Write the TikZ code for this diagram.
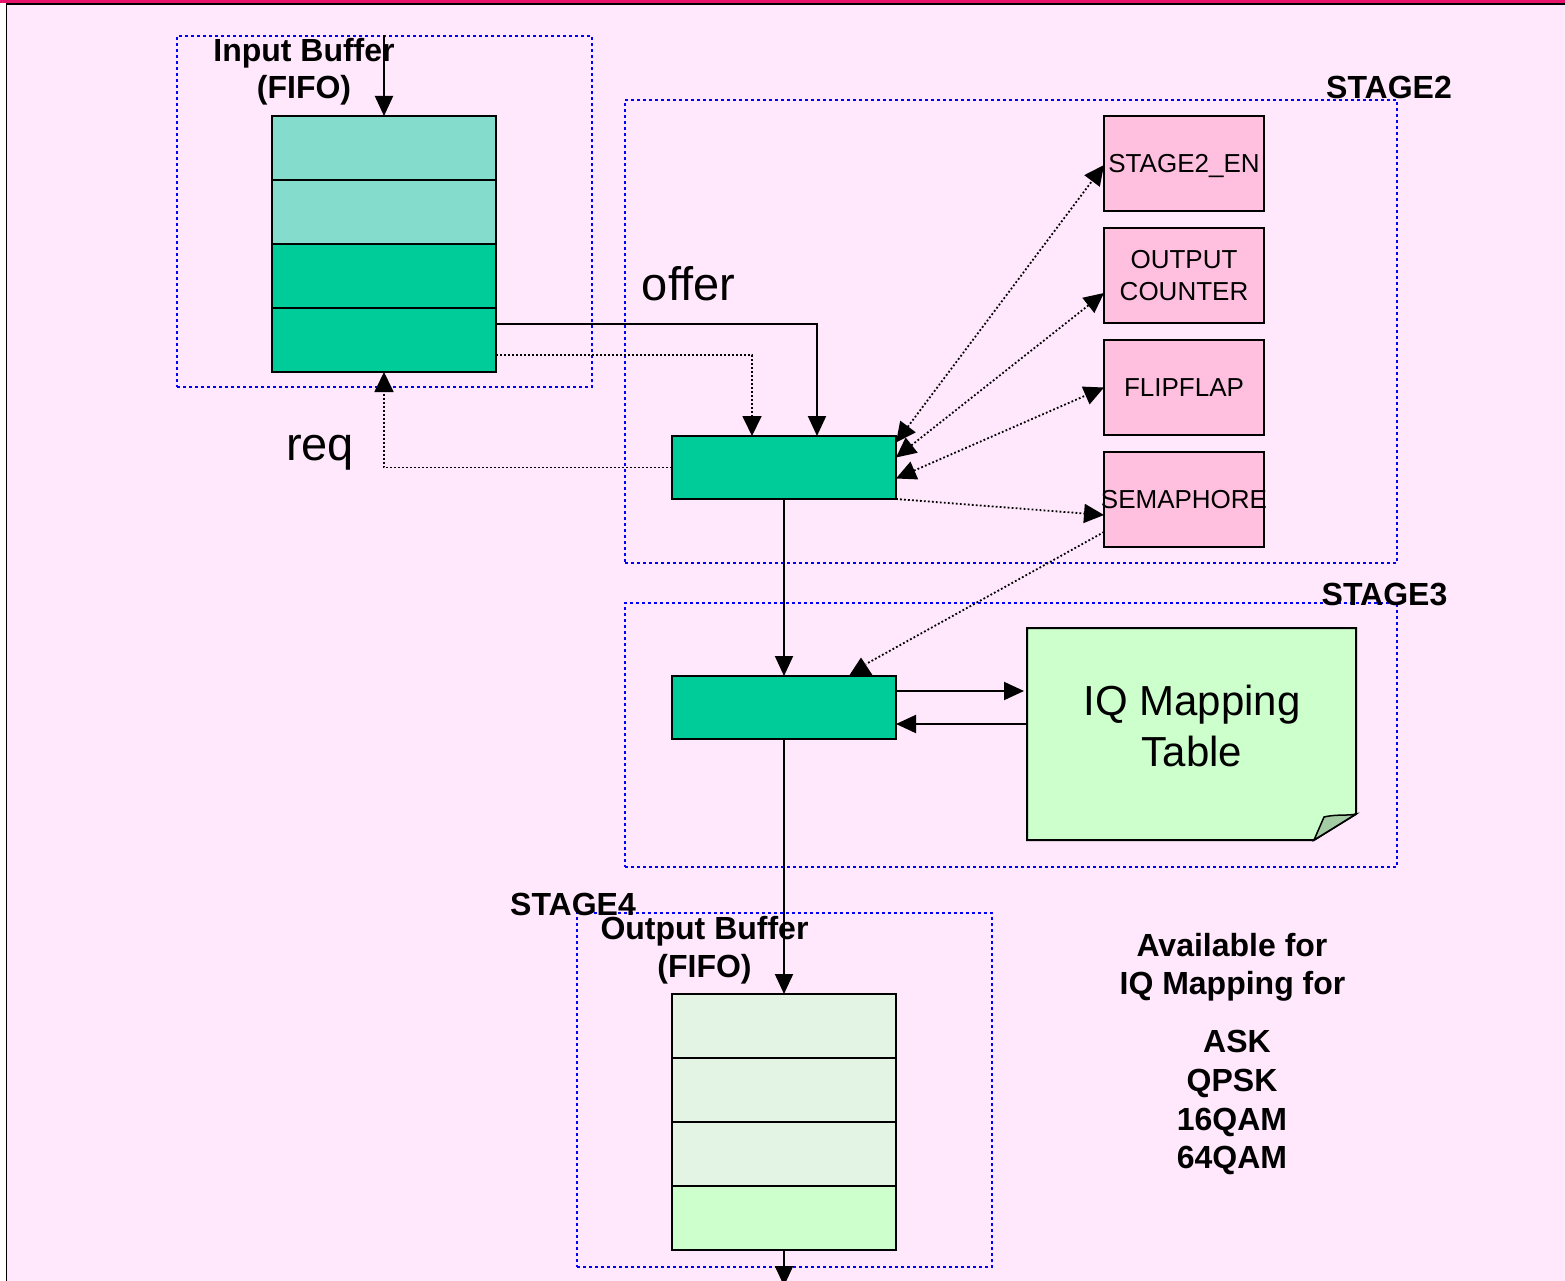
\documentclass[tikz,border=0pt]{standalone}
\usepackage{fontspec}
\setmainfont{Liberation Sans}
\usetikzlibrary{arrows.meta}
\definecolor{bgpink}{HTML}{FFE8FC}
\definecolor{topred}{HTML}{E8146C}
\definecolor{tealL}{HTML}{84DDCC}
\definecolor{tealD}{HTML}{00CC99}
\definecolor{boxpink}{HTML}{FFC0E0}
\definecolor{outL}{HTML}{E4F4E4}
\definecolor{notegreen}{HTML}{CCFFCC}
\definecolor{foldgreen}{HTML}{A4CCA4}
\begin{document}
\begin{tikzpicture}[x=1pt,y=-1pt,
  frame/.style={draw=blue, line width=2.8pt, dash pattern=on 2.8pt off 3.2pt, inner sep=0pt, outer sep=0pt},
  cell/.style={draw=black, line width=2pt, minimum width=224pt, minimum height=64pt, inner sep=0pt, outer sep=0pt},
  blk/.style={draw=black, line width=2pt, fill=tealD, minimum width=224pt, minimum height=63pt, inner sep=0pt, outer sep=0pt},
  pinkbox/.style={draw=black, line width=2pt, fill=boxpink, minimum width=160pt, minimum height=95pt, inner sep=0pt, outer sep=0pt, align=center, font=\fontsize{26}{32}\selectfont},
  lbl/.style={font=\fontsize{32}{38}\selectfont\bfseries, anchor=base, inner sep=0pt},
  big/.style={font=\fontsize{47}{54}\selectfont, anchor=base, inner sep=0pt},
  iqtxt/.style={font=\fontsize{42}{50}\selectfont, anchor=base, inner sep=0pt},
  conn/.style={line width=2pt, -{Triangle[length=20pt,width=18pt]}},
  dconn/.style={line width=1.8pt, dash pattern=on 1.8pt off 2.2pt, -{Triangle[length=20pt,width=19pt]}},
  ddconn/.style={line width=1.8pt, dash pattern=on 1.8pt off 2.2pt, {Triangle[length=20pt,width=19pt]}-{Triangle[length=20pt,width=19pt]}},
  dline/.style={line width=1.8pt, dash pattern=on 1.8pt off 2.2pt}
]
\useasboundingbox (0,0) rectangle (1565,1281);
% background and page edges
\fill[bgpink] (0,0) rectangle (1565,1281);
\fill[white] (0,3) rectangle (5.7,1281);
\fill[topred] (0,0) rectangle (1565,3);
\draw[line width=1.6pt] (6.5,1281) -- (6.5,3.8) -- (1565,3.8);

% stage frames
\node[frame, minimum width=415pt, minimum height=351pt] (f1) at (384.5,211.5) {};
\node[frame, minimum width=772pt, minimum height=463pt] (f2) at (1011,331.5) {};
\node[frame, minimum width=772pt, minimum height=264pt] (f3) at (1011,735) {};
\node[frame, minimum width=415pt, minimum height=354pt] (f4) at (784.5,1090) {};

% labels
\node[lbl] (lin1) at (304,62) {Input Buffer};
\node[lbl] (lin2) at (304,99) {(FIFO)};
\node[lbl] (ls2) at (1389,99) {STAGE2};
\node[lbl] (ls3) at (1384.5,605) {STAGE3};
\node[lbl] (ls4) at (573,915) {STAGE4};
\node[lbl] (lout1) at (704.5,939) {Output Buffer};
\node[lbl] (lout2) at (704.5,977) {(FIFO)};
\node[lbl] (av1) at (1232,956) {Available for};
\node[lbl] (av2) at (1232.5,994) {IQ Mapping for};
\node[lbl] (m1) at (1237,1052) {ASK};
\node[lbl] (m2) at (1232,1091) {QPSK};
\node[lbl] (m3) at (1232,1130) {16QAM};
\node[lbl] (m4) at (1232,1168) {64QAM};
\node[big] (loffer) at (688.5,300) {offer};
\node[big] (lreq) at (320,460) {req};

% input FIFO
\node[cell, fill=tealL] (in1) at (384,148) {};
\node[cell, fill=tealL] (in2) at (384,212) {};
\node[cell, fill=tealD] (in3) at (384,276) {};
\node[cell, fill=tealD] (in4) at (384,340) {};

% output FIFO
\node[cell, fill=outL] (out1) at (784,1026) {};
\node[cell, fill=outL] (out2) at (784,1090) {};
\node[cell, fill=outL] (out3) at (784,1154) {};
\node[cell, fill=notegreen] (out4) at (784,1218) {};

% processing blocks
\node[blk] (b2) at (784,467.5) {};
\node[blk] (b3) at (784,707.5) {};

% stage 2 resources
\node[pinkbox, text height=19pt, text depth=0pt] (s2en) at (1184,163.5) {STAGE2\_EN};
\node[pinkbox] (oc) at (1184,275.5) {OUTPUT\\COUNTER};
\node[pinkbox] (ff) at (1184,387.5) {FLIPFLAP};
\node[pinkbox] (sem) at (1184,499.5) {\makebox[0pt]{SEMAPHORE}};

% IQ mapping table (note with folded corner)
\node[minimum width=329pt, minimum height=212pt, inner sep=0pt, outer sep=0pt] (iq) at (1191.5,734) {};
\draw[line width=2pt, fill=notegreen] (iq.north west) -- (iq.north east) -- ([yshift=26pt]iq.south east) -- ([xshift=-42pt]iq.south east) -- (iq.south west) -- cycle;
\draw[line width=1.5pt, fill=foldgreen] ([xshift=-42pt]iq.south east) -- ([xshift=-32pt,yshift=23pt]iq.south east) .. controls ([xshift=-20pt,yshift=26pt]iq.south east) and ([xshift=-8pt,yshift=24pt]iq.south east) .. ([yshift=26pt]iq.south east) -- cycle;
\node[iqtxt] (iqt1) at (1192,715) {IQ Mapping};
\node[iqtxt] (iqt2) at (1192,766) {Table};

% connectors
\coordinate (intop) at (384,35);
\coordinate (outbot) at (784,1286);
\draw[conn] (intop) -- (in1.north);
\draw[conn] ([yshift=16pt]in4.east) -| ([xshift=33pt]b2.north);
\draw[dconn] ([yshift=-15pt]in4.east) -| ([xshift=-32pt]b2.north);
\draw[dconn] (b2.west) -| (in4.south);
\draw[ddconn] ([yshift=25pt]b2.east) -- ([yshift=-1.5pt]s2en.west);
\draw[ddconn] ([yshift=10pt]b2.east) -- ([yshift=-17.5pt]oc.west);
\draw[ddconn] ([yshift=-11pt]b2.east) -- (ff.west);
\draw[dconn] (b2.south east) -- ([yshift=-15.5pt]sem.west);
\draw[dline] ([yshift=-32.5pt]sem.west) -- ([xshift=82pt,yshift=12pt]b3.north);
\draw[conn, -{Triangle[length=18pt,width=23pt]}] ([xshift=77pt]b3.north) -- ++(0,-18.5);
\draw[conn] (b2.south) -- (b3.north);
\draw[conn] ([yshift=16.5pt]b3.east) -- ([yshift=16.5pt,xshift=-3pt]b3.east -| iq.west);
\draw[conn] ([yshift=-16.5pt]b3.east -| iq.west) -- ([yshift=-16.5pt]b3.east);
\draw[conn] (b3.south) -- (out1.north);
\draw[conn] (out4.south) -- (outbot);
\end{tikzpicture}
\end{document}
